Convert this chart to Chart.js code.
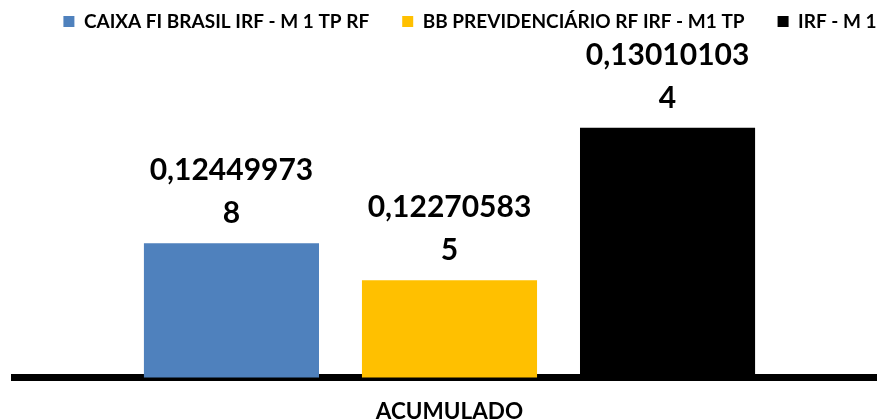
<!DOCTYPE html>
<html>
<head>
<meta charset="utf-8">
<script src="https://cdn.jsdelivr.net/npm/chart.js@4.4.0/dist/chart.umd.min.js"></script>
<style>
    html, body { margin: 0; padding: 0; background: #FFF; overflow: hidden; width: 877px; height: 420px; }
    #wrap { width: 926px; height: 420px; }
</style>
</head>
<body>
<div id="wrap"><canvas id="myChartCanvas1"></canvas></div>
<script>
const categorias = ['ACUMULADO'];
const series = ['CAIXA FI BRASIL IRF - M 1 TP RF', 'BB PREVIDENCIÁRIO RF IRF - M1 TP', 'IRF - M 1'];
const valores = [0.124499738, 0.122705835, 0.130101034];
const cores = ['#4F81BD', '#FFC000', '#000000'];

const fonte = 'Lato, sans-serif';

// rótulos de dados em duas linhas, como no Excel
const rotulosPlugin = {
    id: 'rotulos',
    afterDatasetsDraw(chart) {
        const ctx = chart.ctx;
        ctx.save();
        ctx.fillStyle = '#000';
        ctx.textAlign = 'center';
        ctx.textBaseline = 'alphabetic';
        ctx.font = 'bold 30px ' + fonte;
        chart.data.datasets.forEach((ds, i) => {
            const bar = chart.getDatasetMeta(i).data[0];
            const texto = String(ds.data[0]).replace('.', ',');
            ctx.fillText(texto.slice(0, 10), bar.x, bar.y - 63);
            ctx.fillText(texto.slice(10), bar.x, bar.y - 20);
        });
        ctx.restore();
    }
};

let dados = {
    labels: categorias,
    datasets: []
};

for (let i = 0; i < series.length; i++) {
    dados.datasets.push({
        label: series[i],
        data: [valores[i]],
        backgroundColor: cores[i],
        borderWidth: 0,
        barPercentage: 0.803,
        categoryPercentage: 0.751
    });
}

const config = {
    type: 'bar',
    data: dados,
    plugins: [rotulosPlugin],
    options: {
        responsive: true,
        maintainAspectRatio: false,
        animation: false,
        layout: {
            padding: { left: 14, right: 0, top: -21, bottom: -26.5 }
        },
        scales: {
            x: {
                grid: { display: false, drawTicks: false },
                border: { color: '#000', width: 7 },
                ticks: {
                    color: '#000',
                    padding: 21,
                    font: { family: fonte, size: 22.5, weight: 'bold' }
                }
            },
            y: {
                position: 'right',
                min: 0.118,
                max: 0.1343,
                grid: { display: false },
                border: { display: false },
                ticks: { display: false },
                afterFit: (scale) => { scale.width = 41; }
            }
        },
        plugins: {
            legend: {
                position: 'top',
                labels: {
                    color: '#000',
                    boxWidth: 11,
                    boxHeight: 11,
                    padding: 33,
                    font: { family: fonte, size: 19, weight: 'bold' }
                }
            },
            tooltip: { enabled: false }
        }
    }
};

new Chart(
    document.getElementById('myChartCanvas1'),
    config
);
</script>
</body>
</html>
